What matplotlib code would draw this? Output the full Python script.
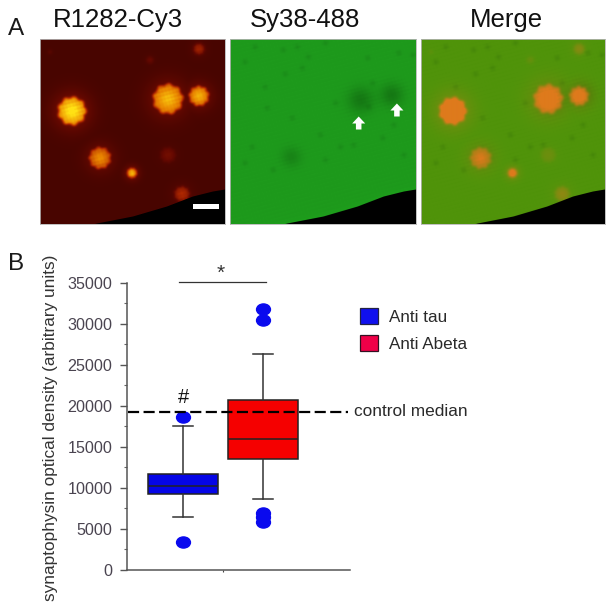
import numpy as np
import matplotlib
matplotlib.use("Agg")
import matplotlib.pyplot as plt
from matplotlib.patches import Patch, Rectangle
from matplotlib.path import Path

plt.rcParams['font.family'] = ['Liberation Sans', 'DejaVu Sans']

# ---------- data ----------
labels = ["Anti tau", "Anti Abeta"]
positions = [1, 2]
q1 = [9220, 13560]
med = [10270, 15960]
q3 = [11650, 20700]
whislo = [6420, 8650]
whishi = [17580, 26350]
fliers = [[18680, 3370], [31790, 30450, 6900, 6400, 5890]]
control_median = 19240
y_ticks = [0, 5000, 10000, 15000, 20000, 25000, 30000, 35000]
panel_titles = ["R1282-Cy3", "Sy38-488", "Merge"]

# plaques in panel A, panel pixels: x, y, radius, peak
plaques = [(32, 72, 15, 1.0), (128, 60, 16, 0.80), (159, 57, 11, 0.76),
           (60, 119, 12, 0.62), (92, 134, 6, 0.80), (159, 10, 7, 0.24),
           (128, 116, 9, 0.13), (142, 155, 9, 0.28), (110, 21, 5, 0.10),
           (10, 13, 3, 0.08)]
# synaptic-loss shadows and specks in Sy38-488, panel pixels: x, y, radius, depth
shadows = [(130, 61, 9, 0.30), (161, 56, 8, 0.30), (61, 118, 7, 0.20)]
specks = [(25, 8), (53, 11), (67, 8), (95, 4), (137, 19), (168, 14), (182, 16),
          (15, 23), (55, 35), (72, 29), (105, 64), (90, 96), (110, 108), (123, 106),
          (152, 99), (163, 86), (15, 124), (43, 131), (173, 116), (37, 69),
          (138, 68), (78, 18), (35, 48), (142, 44), (22, 108), (95, 121), (62, 79)]
# tissue edge, panel pixels
edge_x = [0, 57, 93, 127, 153, 173, 185]
edge_y = [200, 185, 178, 168, 158, 153, 151]
# arrows in Sy38-488: x, y
arrow_pts = [(128, 84), (166, 71)]

# ---------- layout helpers ----------
W, H = 612, 606
fig = plt.figure(figsize=(W / 100, H / 100), dpi=100, facecolor='white')


def rect(x0, y0, x1, y1):
    return [x0 / W, 1 - y1 / H, (x1 - x0) / W, (y1 - y0) / H]


def ftext(x, y, s, **kw):
    kw.setdefault('color', '#1a1a1a')
    return fig.text(x / W, 1 - y / H, s, **kw)


def blur(a, sigma):
    n = int(3 * sigma) + 1
    k = np.exp(-np.arange(-n, n + 1) ** 2 / (2 * sigma ** 2))
    k /= k.sum()
    a = np.pad(a, n, mode='edge')
    a = np.apply_along_axis(lambda v: np.convolve(v, k, mode='same'), 0, a)
    a = np.apply_along_axis(lambda v: np.convolve(v, k, mode='same'), 1, a)
    return a[n:-n, n:-n]


# ---------- micrographs ----------
N = 185
yy, xx = np.mgrid[0:N, 0:N] + 0.5
boundary = np.interp(xx, edge_x, edge_y)
tissue = np.clip(boundary - yy, 0, 1)
rim = np.exp(-np.clip(boundary - yy, 0, None) / 2.5)

mottle = (np.cos(1.05 * xx + 0.6 * yy) * np.cos(0.7 * xx - 1.15 * yy)
          + 0.6 * np.cos(0.45 * xx + 1.5 * yy + 1.0))
red = np.zeros((N, N))
for i, (cx, cy, r, peak) in enumerate(plaques):
    d = np.hypot(xx - cx, yy - cy)
    th = np.arctan2(yy - cy, xx - cx)
    rr = r * (1 + 0.06 * np.cos(9 * th + i))
    disc = np.clip((rr - d) / 3.0, 0, 1)
    core = np.exp(-(d / (0.6 * r)) ** 2)
    tex = 0.84 + 0.13 * mottle
    red = np.maximum(red, peak * (disc * (0.62 + 0.38 * core) * tex
                                  + 0.22 * np.exp(-(d / (1.25 * r)) ** 2)))
red = np.clip(blur(red, 1.0), 0, 1)

green = np.ones((N, N))
for cx, cy, r, depth in shadows:
    green -= depth * np.exp(-((xx - cx) ** 2 + (yy - cy) ** 2) / (2 * r ** 2))
for cx, cy in specks:
    green -= 0.12 * np.exp(-((xx - cx) ** 2 + (yy - cy) ** 2) / (2 * 2.0 ** 2))
green -= 0.025 * mottle
green = np.clip(blur(green, 0.7), 0, 1)

stops = np.array([0.0, 0.1, 0.3, 0.62, 1.0])
img_r = np.stack([np.interp(red, stops, np.array(c)) for c in
                  ([72, 100, 175, 232, 255], [5, 8, 40, 130, 225], [0, 0, 0, 0, 20])], axis=-1) / 255.0
img_g = np.stack([30 * green, 42 + 112 * green + 8 * rim, 28 * green], axis=-1) / 255.0
img_g = np.clip(img_g, 0, 1)
base = np.stack([80 * green, 45 + 103 * green, 10 * green], axis=-1) / 255.0
orange = np.array([222, 122, 28]) / 255.0
alpha = np.clip(red * 1.5, 0, 1)[..., None]
img_m = base * (1 - alpha) + orange * alpha
imgs = [img_r * tissue[..., None], img_g * tissue[..., None], img_m * tissue[..., None]]

panel_x = [(40, 225), (230, 416), (421, 605)]
title_x = [118, 305.5, 506.5]
img_axes = []
for (x0, x1), im, t, tx in zip(panel_x, imgs, panel_titles, title_x):
    a = fig.add_axes(rect(x0, 39, x1, 224))
    a.imshow(im, interpolation='bilinear', extent=(0, N, N, 0), aspect='auto')
    a.set_xticks([])
    a.set_yticks([])
    for s in a.spines.values():
        s.set_color('#b5b5b5')
        s.set_linewidth(0.6)
    img_axes.append(a)
    ftext(tx, 27, t, fontsize=18.5, ha='center', va='baseline', color='#111111')

img_axes[0].add_patch(Rectangle((153, 165), 26, 4.5, fc='white', ec='none'))
for ax_x, ax_y in arrow_pts:
    img_axes[1].arrow(ax_x, ax_y + 6.5, 0, -13, width=5.5, head_width=13, head_length=7,
                      length_includes_head=True, fc='white', ec='none')

ftext(8, 35, "A", fontsize=17.5, va='baseline')
ftext(8, 270, "B", fontsize=17.5, va='baseline')

# ---------- box plot ----------
ax = fig.add_axes(rect(127, 282.7, 350, 570))
ax.patch.set_alpha(0)
stats = [dict(label=l, med=m, q1=a, q3=b, whislo=lo, whishi=hi, fliers=f)
         for l, m, a, b, lo, hi, f in zip(labels, med, q1, q3, whislo, whishi, fliers)]
dot = Path.unit_circle()
dot = Path(dot.vertices * np.array([1.25, 1.0]), dot.codes)
bp = ax.bxp(stats, positions=positions, widths=0.88, patch_artist=True, showcaps=True,
            boxprops=dict(linewidth=1.1, edgecolor='#222222'),
            medianprops=dict(color='#222222', linewidth=1.1),
            whiskerprops=dict(color='#333333', linewidth=1.1),
            capprops=dict(color='#333333', linewidth=1.1), capwidths=0.25,
            flierprops=dict(marker=dot, markerfacecolor='#0a0aee', markeredgecolor='#0a0aee',
                            markersize=10, linestyle='none'))
for b, c in zip(bp['boxes'], ['#0505e6', '#f50000']):
    b.set_facecolor(c)

ax.set_xlim(0.3, 3.09)
ax.set_ylim(0, 35000)
ax.set_yticks(y_ticks)
ax.set_yticks(np.arange(2500, 35000, 5000), minor=True)
ax.set_xticks([1.5])
ax.set_xticklabels([''])
ax.tick_params(axis='x', length=1.5, width=0.8, color='#444444')
ax.tick_params(axis='y', which='major', length=5, width=1, color='#555555',
               labelsize=11.6, labelcolor='#4a4450', pad=5.5)
ax.tick_params(axis='y', which='minor', length=2.5, width=0.8, color='#666666')
for s in ['top', 'right']:
    ax.spines[s].set_visible(False)
for s in ['left', 'bottom']:
    ax.spines[s].set_color('#555555')
    ax.spines[s].set_linewidth(1.1)

ax.plot([0.31, 3.07], [control_median] * 2, color='black', lw=1.6, dashes=(5, 2), clip_on=False, zorder=5)
ftext(354, 411, "control median", fontsize=12.4, va='center', color='#2a2a2a')

# significance marks
ax.plot([0.95, 2.04], [35050, 35050], color='#333333', lw=0.9, clip_on=False)
ftext(220.5, 279, "*", fontsize=15, ha='center', va='baseline', color='#333333')
ftext(183, 403, "#", fontsize=14.5, ha='center', va='baseline', color='#111111')

ftext(50.5, 428, "synaptophysin optical density (arbitrary units)", fontsize=12.4,
      rotation=90, ha='center', va='center', color='#333333')

handles = [Patch(fc='#1010ee', ec='#222244', lw=0.9, label=labels[0]),
           Patch(fc='#f00048', ec='#331122', lw=0.9, label=labels[1])]
leg = fig.legend(handles=handles, loc='upper left', bbox_to_anchor=(355 / W, 1 - 303 / H),
                 frameon=False, fontsize=12.3, handlelength=1.05, handleheight=1.05,
                 labelspacing=0.6, handletextpad=0.65, borderpad=0.3, borderaxespad=0,
                 labelcolor='#2a2a2a')

fig.savefig("out.png", dpi=100, facecolor='white')
